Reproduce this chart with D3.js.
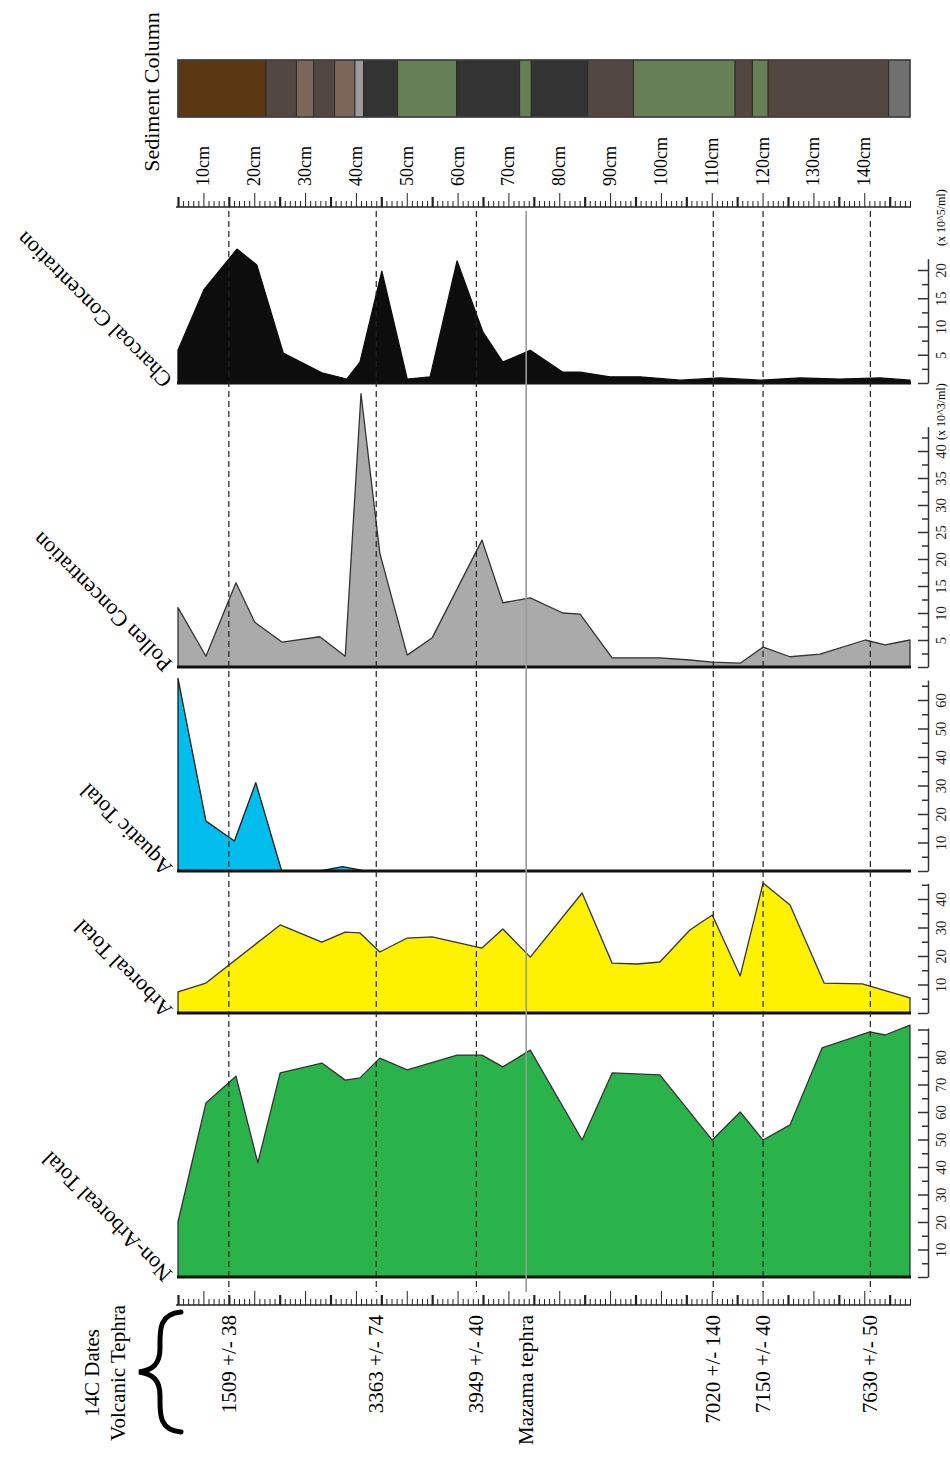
<!DOCTYPE html>
<html>
<head>
<meta charset="utf-8">
<script src="https://cdn.jsdelivr.net/npm/d3@7"></script>
<style>
  body { margin: 0; background: #fff; }
  svg { display: block; font-family: "Liberation Serif", "Times New Roman", serif; }
</style>
</head>
<body>
<svg id="chart" width="950" height="1459"></svg>
<script>
// ---- data (depth in cm) ----
const depthLabels = [10, 20, 30, 40, 50, 60, 70, 80, 90, 100, 110, 120, 130, 140];

// sediment column units
const sedTop    = [5, 22.3, 28.3, 31.7, 35.8, 39.8, 41.5, 48.2, 59.8, 72.2, 74.5, 85.6, 94.6, 114.6, 118.0, 121.1, 144.8];
const sedBottom = [22.3, 28.3, 31.7, 35.8, 39.8, 41.5, 48.2, 59.8, 72.2, 74.5, 85.6, 94.6, 114.6, 118.0, 121.1, 144.8, 149];
const sedType   = ["peat", "darkSilt", "lightSilt", "darkSilt", "lightSilt", "ash", "gyttja", "greenClay", "gyttja",
                   "greenClay", "gyttja", "darkSilt", "greenClay", "darkSilt", "greenClay", "darkSilt", "grayClay"];

// 14C dates and tephra
const dateDepth = [15.0, 44.0, 63.7, 73.5, 110.3, 120.1, 141.2];
const dateLabel = ["1509 +/- 38", "3363 +/- 74", "3949 +/- 40", "Mazama tephra", "7020 +/- 140", "7150 +/- 40", "7630 +/- 50"];
const dateKind  = ["c14", "c14", "c14", "tephra", "c14", "c14", "c14"];

// charcoal concentration (x 10^5/ml)
const charcoalDepth = [5, 10.1, 16.6, 20.5, 25.7, 33.3, 38.2, 40.8, 45.1, 50.1, 54.6, 59.9, 65.0, 68.9, 74.3, 80.7, 84.1, 90.0, 95.9, 103.8, 111.6, 119.5, 127.4, 135.2, 143.1, 149];
const charcoalValue = [5.8, 16.5, 23.7, 20.9, 5.3, 1.8, 0.7, 3.7, 19.8, 0.7, 1.1, 21.6, 9.0, 3.7, 5.8, 1.9, 1.9, 1.1, 1.1, 0.5, 0.9, 0.5, 0.9, 0.7, 0.9, 0.5];

// pollen concentration (x 10^3/ml)
const pollenDepth = [5, 10.5, 16.4, 20.1, 25.5, 32.9, 37.9, 41.0, 44.7, 50.1, 55.0, 64.8, 68.9, 74.3, 80.7, 84.1, 90.4, 99.8, 105.7, 110.1, 115.6, 120.1, 125.4, 131.3, 140.2, 144.1, 149];
const pollenValue = [11.0, 2.0, 15.6, 8.3, 4.6, 5.6, 2.0, 50.6, 21.1, 2.2, 5.4, 23.5, 11.9, 12.8, 10.0, 9.8, 1.7, 1.7, 1.3, 0.9, 0.7, 3.7, 1.9, 2.4, 5.0, 4.1, 5.0];

// aquatic total (%)
const aquaticDepth = [5, 10.5, 16.1, 20.3, 25.4, 32.9, 37.4, 41.3, 45.0, 149];
const aquaticValue = [67.6, 17.5, 10.5, 31.0, 0, 0, 1.5, 0.2, 0, 0];

// arboreal total (%)
const arborealDepth = [5, 10.5, 25.1, 33.3, 37.9, 40.8, 44.7, 50.1, 55.0, 64.8, 68.9, 74.3, 84.5, 90.4, 95.3, 99.8, 105.7, 110.1, 115.6, 120.1, 125.4, 132.1, 139.6, 149];
const arborealValue = [7.4, 10.5, 30.9, 24.9, 28.4, 28.1, 21.4, 26.3, 26.7, 22.8, 29.5, 19.6, 42.1, 17.5, 17.2, 17.9, 29.1, 34.4, 13.0, 45.6, 37.9, 10.5, 10.2, 5.3];

// non-arboreal total (%)
const nonArbDepth = [5, 10.5, 16.4, 20.7, 25.1, 33.3, 37.9, 40.8, 44.7, 50.1, 59.9, 64.8, 68.9, 74.3, 84.5, 90.4, 99.8, 110.1, 115.6, 120.1, 125.4, 131.7, 141.1, 144.1, 149];
const nonArbValue = [20, 63.3, 73.0, 41.5, 74.2, 77.8, 71.6, 72.4, 79.6, 75.3, 80.7, 80.7, 76.4, 82.5, 49.8, 74.2, 73.5, 49.8, 60.0, 49.8, 55.3, 83.3, 89.1, 88.0, 91.6];

// ---- drawing ----
const svg = d3.select("#chart");
const serif = '"Liberation Serif", "Times New Roman", serif';

const depthX = d3.scaleLinear().domain([5, 149]).range([178, 910]);

const sedColor = {
    peat: "#5c3714",
    darkSilt: "#534741",
    lightSilt: "#7c665a",
    ash: "#9b9b9b",
    gyttja: "#333333",
    greenClay: "#667f56",
    grayClay: "#707070",
};

// Sediment column
const sedG = svg.append("g");
sedG.selectAll("rect")
    .data(sedTop)
    .join("rect")
    .attr("x", d => depthX(d))
    .attr("width", (d, i) => depthX(sedBottom[i]) - depthX(d))
    .attr("y", 60)
    .attr("height", 57)
    .attr("fill", (d, i) => sedColor[sedType[i]])
    .attr("stroke", "#2a2a2a")
    .attr("stroke-width", 1);
sedG.append("rect")
    .attr("x", depthX(5)).attr("y", 60)
    .attr("width", depthX(149) - depthX(5)).attr("height", 57)
    .attr("fill", "none").attr("stroke", "#444").attr("stroke-width", 1.5);

svg.append("text")
    .attr("transform", "translate(151,92) rotate(-90)")
    .attr("text-anchor", "middle")
    .attr("dominant-baseline", "central")
    .attr("font-size", 22)
    .text("Sediment Column");

// Depth labels
svg.append("g").selectAll("text")
    .data(depthLabels)
    .join("text")
    .attr("transform", d => `translate(${depthX(d)},186) rotate(-90)`)
    .attr("dominant-baseline", "central")
    .attr("font-size", 18)
    .text(d => d + "cm");

// Rulers (1 cm minor ticks)
function ruler(y) {
    const g = svg.append("g")
        .attr("transform", `translate(0,${y})`)
        .call(d3.axisTop(depthX).tickValues(d3.range(5, 150)).tickFormat("").tickSize(6).tickSizeOuter(0));
    g.select(".domain").attr("stroke", "#222").attr("stroke-width", 1.5).attr("d", "M176,0H911");
    g.selectAll(".tick line")
        .attr("stroke", "#222")
        .attr("y2", d => d % 10 === 0 ? -14 : d % 10 === 5 ? -10 : -6)
        .attr("stroke-width", d => d % 10 === 5 ? 2.2 : 1);
}
ruler(207);
ruler(1305);

// Panels
const panels = [
    {depth: charcoalDepth, value: charcoalValue, base: 383, ppu: 5.65, top: 22, step: 2.5, major: 5,
     labels: [5, 10, 15, 20], fill: "#0d0d0d", stroke: "#0d0d0d", title: "Charcoal Concentration",
     unit: "(x 10^5/ml)", unitY: 246},
    {depth: pollenDepth, value: pollenValue, base: 667, ppu: 5.4, top: 44.5, step: 2.5, major: 5,
     labels: [5, 10, 15, 20, 25, 30, 35, 40], fill: "#aaaaaa", stroke: "#333", title: "Pollen Concentration",
     unit: "(x 10^3/ml)", unitY: 440},
    {depth: aquaticDepth, value: aquaticValue, base: 871, ppu: 2.85, top: 67, step: 5, major: 10,
     labels: [10, 20, 30, 40, 50, 60], fill: "#00bdec", stroke: "#1a1a1a", title: "Aquatic Total"},
    {depth: arborealDepth, value: arborealValue, base: 1013, ppu: 2.85, top: 45.5, step: 5, major: 10,
     labels: [10, 20, 30, 40], fill: "#fff200", stroke: "#333", title: "Arboreal Total"},
    {depth: nonArbDepth, value: nonArbValue, base: 1277, ppu: 2.75, top: 90.5, step: 5, major: 10,
     labels: [10, 20, 30, 40, 50, 60, 70, 80], fill: "#2bb34b", stroke: "#333", title: "Non-Arboreal Total"},
];

panels.forEach(p => {
    const y = d3.scaleLinear().domain([0, p.top]).range([p.base, p.base - p.top * p.ppu]);
    const rows = p.depth.map((d, i) => ({depth: d, value: p.value[i]}));

    const area = d3.area()
        .x(d => depthX(d.depth))
        .y0(y(0))
        .y1(d => y(d.value));

    svg.append("path")
        .datum(rows)
        .attr("d", area)
        .attr("fill", p.fill)
        .attr("stroke", p.stroke)
        .attr("stroke-width", 1.3)
        .attr("stroke-linejoin", "round");

    // baseline
    svg.append("line")
        .attr("x1", depthX(5) - 1).attr("x2", depthX(149) + 1)
        .attr("y1", y(0)).attr("y2", y(0))
        .attr("stroke", "#111").attr("stroke-width", 3);

    // value axis on the right
    const ag = svg.append("g")
        .attr("transform", "translate(928,0)")
        .call(d3.axisLeft(y)
            .tickValues(d3.range(0, p.top, p.step))
            .tickSizeOuter(0)
            .tickFormat(d => p.labels.includes(d) ? d : ""));
    ag.attr("font-family", serif).attr("font-size", 14.5);
    ag.select(".domain").attr("stroke", "#333").attr("stroke-width", 1.5);
    ag.selectAll(".tick line")
        .attr("stroke", "#333").attr("stroke-width", 1.5)
        .attr("x2", d => d % p.major === 0 ? -10 : -6);
    ag.selectAll(".tick text")
        .attr("x", null).attr("dy", null)
        .attr("fill", "#222")
        .attr("text-anchor", "middle")
        .attr("dominant-baseline", "central")
        .attr("transform", "translate(13,0) rotate(-90)");

    if (p.unit) {
        svg.append("text")
            .attr("transform", `translate(941,${p.unitY}) rotate(-90)`)
            .attr("dominant-baseline", "central")
            .attr("font-size", 12)
            .text(p.unit);
    }

    // slanted panel title
    svg.append("text")
        .attr("transform", `translate(168,${p.base + 1}) rotate(-135)`)
        .attr("dominant-baseline", "central")
        .attr("font-size", 22)
        .text(p.title);
});

// Date / tephra lines
svg.append("g").selectAll("line")
    .data(dateDepth)
    .join("line")
    .attr("x1", d => depthX(d)).attr("x2", d => depthX(d))
    .attr("y1", 211).attr("y2", 1292)
    .attr("stroke", (d, i) => dateKind[i] === "tephra" ? "#9a9a9a" : "#222")
    .attr("stroke-width", (d, i) => dateKind[i] === "tephra" ? 1.6 : 1.2)
    .attr("stroke-dasharray", (d, i) => dateKind[i] === "tephra" ? null : "6,4");

svg.append("g").selectAll("text")
    .data(dateDepth)
    .join("text")
    .attr("transform", d => `translate(${depthX(d)},1315) rotate(-90)`)
    .attr("text-anchor", "end")
    .attr("dominant-baseline", "central")
    .attr("font-size", 21)
    .text((d, i) => dateLabel[i]);

// Legend for the date row
svg.append("text")
    .attr("transform", "translate(92,1373) rotate(-90)")
    .attr("text-anchor", "middle").attr("dominant-baseline", "central")
    .attr("font-size", 21)
    .text("14C Dates");
svg.append("text")
    .attr("transform", "translate(118,1373) rotate(-90)")
    .attr("text-anchor", "middle").attr("dominant-baseline", "central")
    .attr("font-size", 21)
    .text("Volcanic Tephra");

svg.append("path")
    .attr("d", "M181,1312 C158,1314 160,1332 160,1348 C160,1364 153,1370 139,1372 C153,1374 160,1380 160,1396 C160,1412 158,1430 181,1432")
    .attr("fill", "none")
    .attr("stroke", "#000")
    .attr("stroke-width", 5)
    .attr("stroke-linecap", "round");
</script>
</body>
</html>
